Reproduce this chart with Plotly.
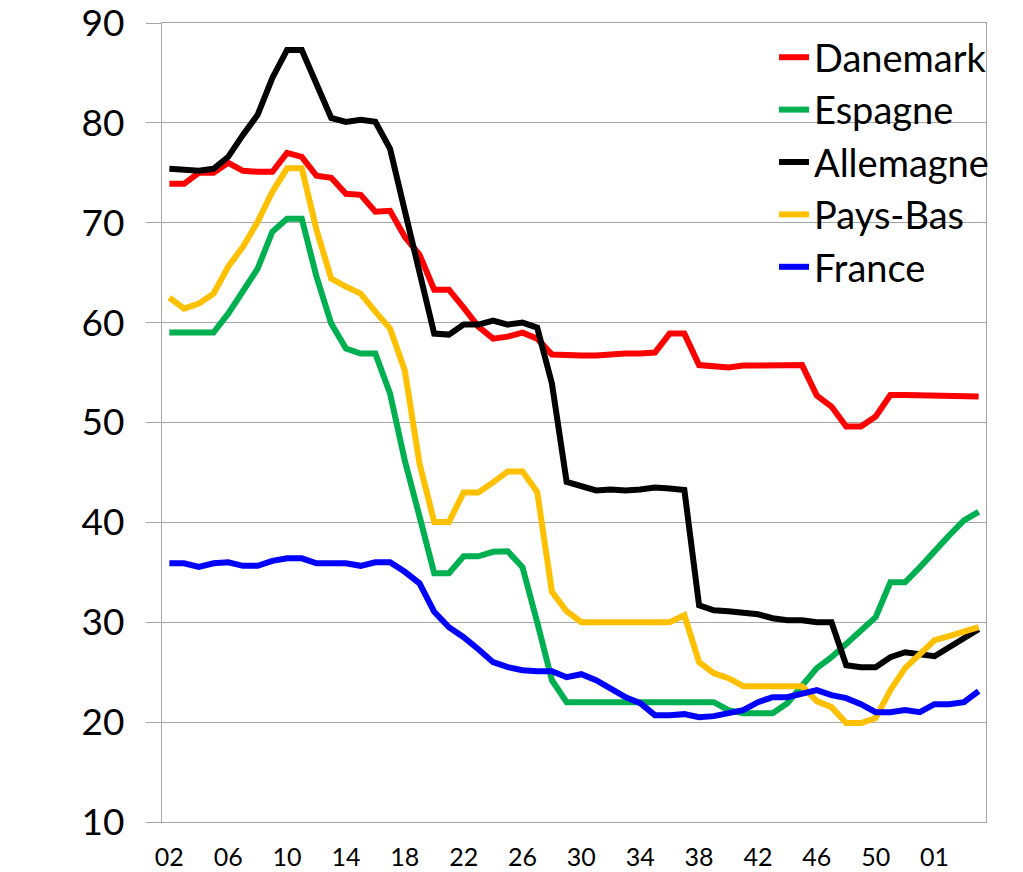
import plotly.graph_objects as go

# x categories: index positions; labels shown every 4th category
tick_labels = ["02", "06", "10", "14", "18", "22", "26", "30", "34", "38", "42", "46", "50", "01"]
n_points = 56
x_idx = list(range(n_points))
tick_positions = list(range(0, n_points, 4))[:len(tick_labels)]
y_ticks = [10, 20, 30, 40, 50, 60, 70, 80, 90]

danemark = [73.9, 73.9, 75.0, 75.0, 76.0, 75.2, 75.1, 75.1, 77.0, 76.6,
            74.7, 74.5, 72.9, 72.8, 71.1, 71.2, 68.6, 66.8, 63.3, 63.3,
            61.5, 59.6, 58.4, 58.6, 59.0, 58.4, 56.8, 56.7, 56.7, 56.7,
            56.85, 56.9, 56.9, 57.0, 58.9, 58.9, 55.75, 55.7, 55.5, 55.7,
            55.75, 55.75, 55.75, 55.75, 52.7, 51.6, 49.6, 49.6, 50.6, 52.75,
            52.75, 52.75, 52.7, 52.6, 52.6, 52.6]

espagne = [59.0, 59.0, 59.0, 59.0, 60.9, 63.1, 65.4, 69.1, 70.4, 70.4,
           64.6, 59.9, 57.4, 56.9, 56.9, 52.9, 46.2, 40.6, 34.9, 34.9,
           36.6, 36.6, 37.05, 37.1, 35.5, 30.0, 24.2, 22.0, 22.0, 22.0,
           22.0, 22.0, 22.0, 22.0, 22.0, 22.0, 22.0, 22.0, 21.2, 20.9,
           20.9, 20.9, 21.9, 23.7, 25.4, 26.5, 27.9, 29.2, 30.5, 34.0,
           34.0, 35.5, 37.2, 38.7, 40.2, 41.05]

allemagne = [75.4, 75.3, 75.2, 75.4, 76.6, 78.8, 80.8, 84.5, 87.3, 87.3,
             83.8, 80.5, 80.1, 80.3, 80.1, 77.4, 71.2, 64.8, 58.9, 58.8,
             59.8, 59.8, 60.2, 59.8, 60.0, 59.5, 53.9, 44.06, 43.6, 43.2,
             43.3, 43.2, 43.3, 43.5, 43.4, 43.25, 31.7, 31.2, 31.1, 31.0,
             30.8, 30.4, 30.2, 30.2, 30.0, 30.0, 25.7, 25.5, 25.5, 26.5,
             27.0, 26.8, 26.6, 27.5, 28.4, 29.3]

pays_bas = [62.5, 61.4, 61.9, 62.9, 65.6, 67.6, 70.1, 73.1, 75.45, 75.45,
            69.3, 64.4, 63.6, 62.9, 61.1, 59.4, 55.2, 45.9, 40.05, 40.05,
            43.0, 43.0, 44.0, 45.1, 45.1, 43.05, 33.05, 31.1, 30.0, 30.0,
            30.0, 30.0, 30.0, 30.0, 30.0, 30.7, 26.0, 24.9, 24.4, 23.6,
            23.6, 23.6, 23.6, 23.6, 22.1, 21.5, 19.9, 19.9, 20.4, 23.2,
            25.4, 26.9, 28.2, 28.6, 29.0, 29.5]

france = [35.9, 35.9, 35.55, 35.9, 36.0, 35.65, 35.65, 36.15, 36.4, 36.4,
          35.9, 35.9, 35.9, 35.65, 36.0, 36.0, 35.05, 33.9, 31.05, 29.5,
          28.5, 27.3, 26.0, 25.5, 25.2, 25.1, 25.1, 24.5, 24.8, 24.2,
          23.4, 22.5, 21.9, 20.7, 20.7, 20.8, 20.5, 20.6, 20.9, 21.2,
          22.0, 22.5, 22.5, 22.9, 23.2, 22.7, 22.4, 21.8, 21.0, 21.0,
          21.2, 21.0, 21.8, 21.8, 22.0, 23.1]

series = [
    ("Danemark", danemark, "#FF0000"),
    ("Espagne", espagne, "#00B050"),
    ("Allemagne", allemagne, "#000000"),
    ("Pays-Bas", pays_bas, "#FFC000"),
    ("France", france, "#0000FF"),
]

FONT = "Lato, 'Open Sans', sans-serif"
GRID = "#A6A6A6"

# plot area in page pixels
L, R, T, B = 162, 986, 23, 822
PW, PH = R - L, B - T

fig = go.Figure()
for name, vals, color in series:
    fig.add_trace(go.Scatter(
        x=x_idx, y=vals, mode="lines", name=name, legendgroup=name,
        line=dict(color=color, width=6),
    ))

# white backing of the legend box (hides gridlines behind it)
fig.add_shape(type="rect", xref="paper", yref="paper",
              x0=(714 - L) / PW, x1=1.002, y0=(B - 290) / PH, y1=(B - 26) / PH,
              fillcolor="white", line=dict(width=0), layer="between")

fig.update_layout(
    width=1023, height=872,
    margin=dict(l=L, r=1023 - R, t=T, b=872 - B, autoexpand=False),
    paper_bgcolor="white", plot_bgcolor="white",
    font=dict(family=FONT, color="#000000"),
    showlegend=True,
    legend=dict(
        x=(774 - L) / PW, xanchor="left",
        y=(B - 26) / PH, yanchor="top",
        bgcolor="rgba(255,255,255,0)",
        font=dict(size=38, family=FONT, color="#000000"),
        tracegroupgap=0,
        traceorder="grouped",
    ),
    xaxis=dict(
        range=[-0.5, n_points - 0.5],
        tickmode="array", tickvals=tick_positions, ticktext=tick_labels,
        showgrid=False, zeroline=False, automargin=False,
        showline=True, linecolor=GRID, linewidth=1.3, mirror=True,
        ticks="", tickfont=dict(size=25, family=FONT, color="#000000"),
        ticklabelstandoff=13,
    ),
    yaxis=dict(
        range=[10, 90],
        tickmode="array", tickvals=y_ticks, ticktext=[str(v) for v in y_ticks],
        showgrid=True, gridcolor=GRID, gridwidth=1.3,
        zeroline=False, automargin=False,
        showline=True, linecolor=GRID, linewidth=1.3, mirror=True,
        ticks="outside", ticklen=15, tickcolor=GRID, tickwidth=1.3,
        tickfont=dict(size=37, family=FONT, color="#000000"),
        ticklabelstandoff=14, ticklabeloverflow="allow",
    ),
)

fig.write_html("out.html",
               config={"displayModeBar": False},
               post_script="document.body.style.margin='0';document.body.style.overflow='hidden';")
